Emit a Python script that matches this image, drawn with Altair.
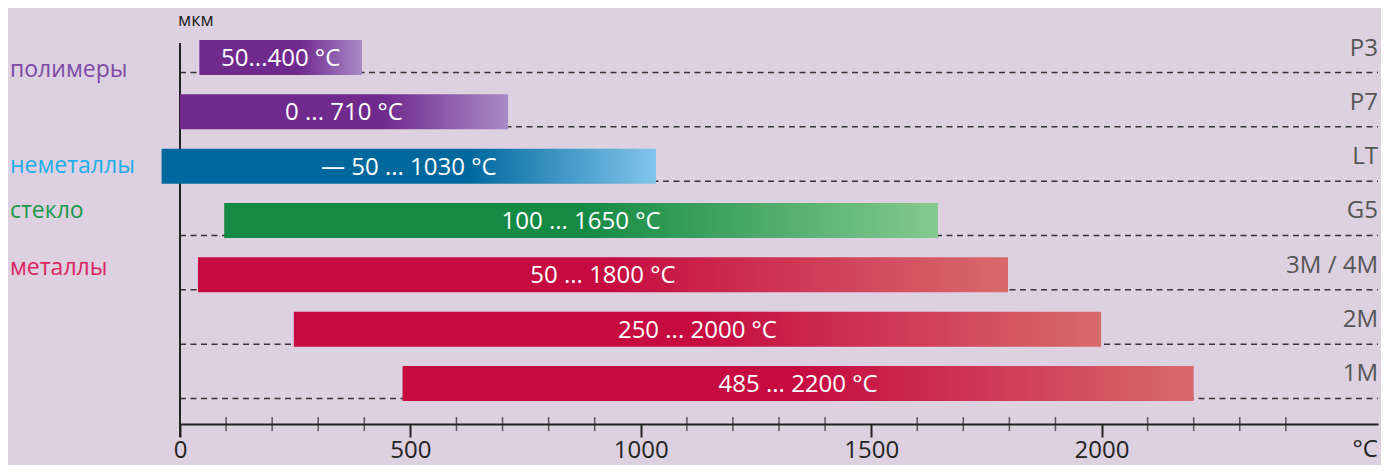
import altair as alt
import pandas as pd

# ---- data ----
rows = ["P3", "P7", "LT", "G5", "3M / 4M", "2M", "1M"]
starts = [42, 0, -40, 96, 39, 247, 483]
ends = [395, 712, 1033, 1645, 1797, 1999, 2200]
range_labels = ["50...400 °C", "0 ... 710 °C", "— 50 ... 1030 °C", "100 ... 1650 °C",
                "50 ... 1800 °C", "250 ... 2000 °C", "485 ... 2200 °C"]
groups = ["полимеры", "полимеры", "неметаллы", "стекло", "металлы", "металлы", "металлы"]

group_names = ["полимеры", "неметаллы", "стекло", "металлы"]
group_anchor_rows = ["P3", "LT", "G5", "3M / 4M"]

major_ticks = [0, 500, 1000, 1500, 2000]
minor_ticks = [100, 200, 300, 400, 600, 700, 800, 900, 1100, 1200, 1300, 1400,
               1600, 1700, 1800, 1900, 2100, 2200, 2300, 2400]
x_max = 2600
unit_y = "мкм"
unit_x = "°C"

# ---- styles ----
FONT = "Open Sans"
BG = "#DDD0E1"
group_style = {
    "полимеры": dict(solid="#702A8E", end="#A88BC5", off=0.62, label="#7A4AA6", dy=19.5),
    "неметаллы": dict(solid="#00689D", end="#82C5EC", off=0.62, label="#1BAEEA", dy=6.5),
    "стекло": dict(solid="#148A44", end="#84CA8F", off=0.5, label="#179A48", dy=-2.5),
    "металлы": dict(solid="#C60B40", end="#D86A6C", off=0.5, label="#DB2560", dy=0.5),
}

W, H = 1198, 394

df = pd.DataFrame({"row": rows, "start": starts, "end": ends,
                   "label": range_labels, "group": groups})
gdf = pd.DataFrame({"name": group_names, "row": group_anchor_rows})
tdf = pd.DataFrame({"v": minor_ticks})

xscale = alt.Scale(domain=[0, x_max], nice=False, zero=False)
xaxis = alt.Axis(values=major_ticks, title=None, grid=False, format="d",
                 domainColor="#222", domainWidth=2,
                 tickColor="#222", tickWidth=2, tickSize=13,
                 labelFontSize=24, labelColor="#222", labelFont=FONT,
                 labelPadding=20, labelBaseline="alphabetic",
                 labelFlush=False, labelOverlap=False)
yscale = alt.Scale(domain=rows, paddingInner=0.3558, paddingOuter=0.3037, align=0.303)
ydef = alt.Y("row:N", scale=yscale, axis=None)

base = alt.Chart(df)

dashed = base.mark_rule(yOffset=15, strokeDash=[6, 4.5], color="#333", strokeWidth=1.5).encode(
    x=alt.value(0), x2=alt.value("width"), y=ydef)

yaxis_line = alt.Chart(pd.DataFrame({"a": [0]})).mark_rule(color="#222", strokeWidth=2).encode(
    x=alt.value(0), y=alt.value(13), y2=alt.value(407))

bar_layers = []
for g in group_names:
    s = group_style[g]
    grad = alt.LinearGradient(
        gradient="linear", x1=0, x2=1, y1=0, y2=0,
        stops=[alt.GradientStop(color=s["solid"], offset=0),
               alt.GradientStop(color=s["solid"], offset=s["off"]),
               alt.GradientStop(color=s["end"], offset=1)])
    bar_layers.append(
        base.transform_filter(alt.datum.group == g).mark_bar(color=grad).encode(
            x=alt.X("start:Q", scale=xscale, axis=xaxis), x2="end:Q", y=ydef))

bar_text = base.transform_calculate(mid="(datum.start + datum.end) / 2").mark_text(
    color="white", font=FONT, fontSize=24, baseline="alphabetic", dy=8.5).encode(
    x=alt.X("mid:Q", scale=xscale, axis=xaxis), y=ydef, text="label:N")

right_text = base.mark_text(align="right", baseline="alphabetic", dy=-2,
                            font=FONT, fontSize=24, color="#555").encode(
    x=alt.value("width"), y=ydef, text="row:N")

group_layers = []
for g in group_names:
    s = group_style[g]
    group_layers.append(
        alt.Chart(gdf).transform_filter(alt.datum.name == g).mark_text(
            align="left", baseline="alphabetic", dy=s["dy"], font=FONT,
            fontSize=23, color=s["label"]).encode(
            x=alt.value(-170), y=ydef, text="name:N"))

minor = alt.Chart(tdf).mark_tick(orient="vertical", size=14, thickness=1.5, color="#222").encode(
    x=alt.X("v:Q", scale=xscale, axis=xaxis), y=alt.value(H))

unit_top = alt.Chart(pd.DataFrame({"t": [unit_y]})).mark_text(
    align="left", baseline="alphabetic", font=FONT, fontSize=18, color="#222").encode(
    x=alt.value(-2), y=alt.value(-4), text="t:N")

unit_right = alt.Chart(pd.DataFrame({"t": [unit_x]})).mark_text(
    align="right", baseline="alphabetic", font=FONT, fontSize=24, color="#222").encode(
    x=alt.value("width"), y=alt.value(H + 33), text="t:N")

chart = alt.layer(
    dashed, yaxis_line, *bar_layers, bar_text, right_text, *group_layers,
    minor, unit_top, unit_right
).properties(
    width=W, height=H,
    padding={"left": 172, "top": 22, "right": 3, "bottom": 41},
    autosize=alt.AutoSizeParams(type="none"),
).configure(background=BG).configure_view(stroke=None)

chart.save("out.html", embed_options={"renderer": "svg", "actions": False})
